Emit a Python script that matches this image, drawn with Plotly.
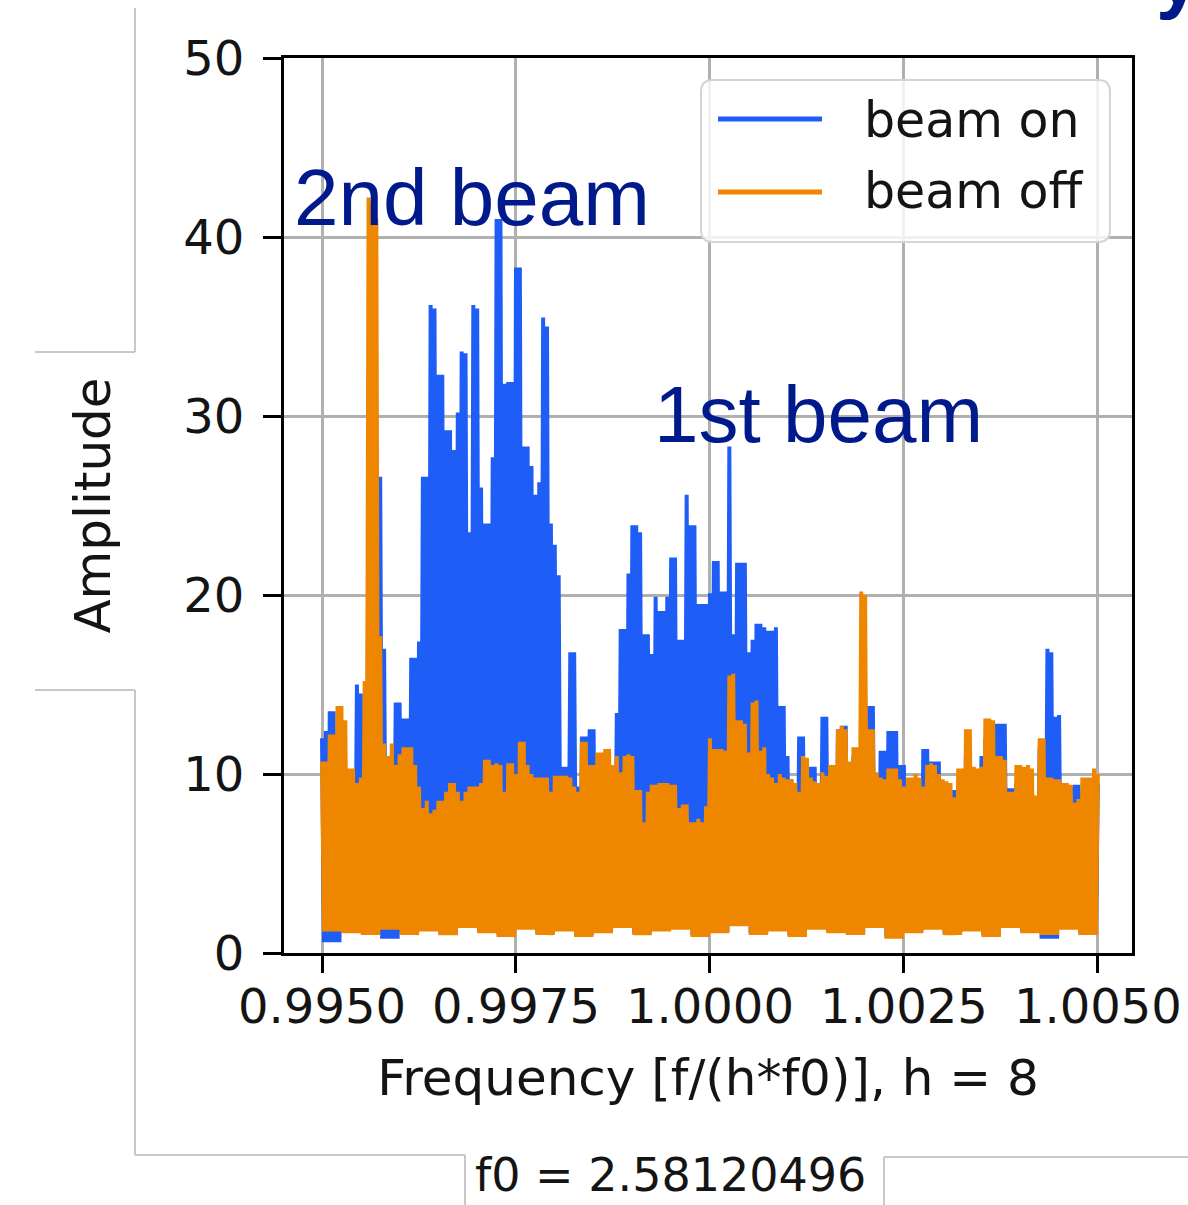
import numpy as np
import plotly.graph_objects as go

# ---------------- data ----------------
freq_start = 0.9950
freq_stop = 1.0050
n_bins = 201

# upper envelope of the "beam on" spectrum, one value per bin (step 0.00005)
beam_on_peaks = [
    12.0, 12.4, 13.5, 13.5, 11.0, 11.0, 10.0, 10.0, 10.0, 15.0,
    14.5, 10.4, 26.8, 20.0, 22.0, 26.6, 17.0, 11.0, 10.0, 14.0,
    14.0, 13.1, 13.1, 16.5, 16.5, 17.4, 26.6, 26.6, 36.2, 36.0,
    32.3, 32.3, 29.2, 29.2, 28.1, 30.2, 33.6, 33.5, 23.5, 36.2,
    36.0, 26.0, 24.0, 24.0, 27.7, 41.0, 41.0, 31.8, 31.9, 31.9,
    38.3, 38.3, 28.3, 28.3, 27.2, 25.6, 26.3, 35.5, 35.0, 24.0,
    22.8, 21.1, 10.4, 10.4, 16.8, 16.8, 9.3, 12.1, 12.1, 12.5,
    12.5, 10.0, 10.0, 9.0, 9.0, 10.0, 13.4, 18.1, 18.1, 21.2,
    23.9, 23.9, 23.5, 17.8, 17.8, 16.7, 19.9, 19.1, 19.1, 19.9,
    22.1, 22.1, 17.5, 17.5, 25.6, 23.9, 23.9, 19.5, 19.5, 19.5,
    20.1, 21.9, 21.9, 20.2, 20.2, 28.3, 17.8, 21.8, 21.8, 21.8,
    16.8, 17.5, 18.4, 18.4, 18.2, 18.0, 18.0, 18.2, 13.8, 13.8,
    11.0, 9.7, 9.5, 12.1, 12.1, 10.4, 10.4, 10.4, 9.5, 13.2,
    13.2, 10.0, 10.0, 12.5, 12.7, 12.7, 9.0, 11.0, 11.0, 11.0,
    13.0, 13.8, 13.8, 10.0, 11.3, 11.3, 12.4, 12.4, 12.4, 10.5,
    10.5, 9.0, 9.0, 9.0, 9.0, 11.4, 11.4, 10.7, 10.7, 10.7,
    9.0, 9.2, 9.1, 9.1, 9.0, 9.0, 11.0, 11.0, 9.5, 9.5,
    11.0, 12.0, 12.0, 12.0, 12.8, 12.8, 12.8, 9.2, 9.2, 9.5,
    9.5, 9.5, 9.5, 9.5, 8.5, 11.5, 11.5, 17.0, 16.8, 13.2,
    13.3, 9.5, 9.4, 9.3, 9.4, 9.4, 9.0, 9.0, 9.0, 9.5,
    9.5,
]

# upper envelope of the "beam off" spectrum
beam_off_peaks = [
    10.7, 10.7, 12.2, 12.2, 13.8, 13.8, 13.0, 10.3, 10.3, 9.5,
    9.8, 15.2, 42.2, 42.0, 41.0, 17.7, 11.7, 11.0, 11.7, 10.5,
    11.1, 11.5, 11.5, 11.5, 10.5, 9.3, 8.1, 8.5, 7.8, 8.0,
    8.5, 8.5, 9.0, 9.5, 9.5, 9.0, 8.5, 9.0, 9.3, 9.3,
    9.3, 9.5, 10.8, 10.8, 10.5, 10.6, 10.5, 9.0, 10.6, 10.6,
    10.0, 11.8, 11.8, 10.5, 10.0, 9.8, 9.8, 9.8, 9.8, 9.0,
    9.9, 9.9, 9.9, 9.9, 9.8, 9.3, 9.0, 11.8, 11.8, 10.5,
    10.5, 11.2, 11.2, 11.4, 11.4, 10.5, 11.0, 10.1, 11.0, 11.1,
    11.0, 9.1, 9.1, 7.3, 9.0, 9.4, 9.4, 9.5, 9.5, 9.5,
    9.4, 9.4, 8.1, 8.3, 8.3, 7.3, 7.3, 7.5, 7.3, 8.2,
    12.0, 11.4, 11.4, 11.4, 11.3, 15.5, 15.6, 13.0, 13.0, 12.8,
    11.2, 14.0, 14.1, 11.3, 11.5, 10.0, 9.8, 9.5, 10.0, 9.8,
    9.7, 9.7, 9.5, 9.0, 11.0, 10.9, 9.8, 9.6, 9.5, 10.1,
    9.9, 10.5, 10.5, 12.5, 12.7, 12.5, 10.7, 11.5, 11.5, 20.2,
    20.0, 12.5, 12.5, 10.1, 9.8, 9.7, 10.3, 10.3, 10.3, 9.7,
    9.3, 9.8, 9.8, 10.0, 9.8, 9.3, 10.5, 10.6, 10.5, 10.0,
    9.7, 9.6, 9.5, 8.7, 10.3, 10.3, 12.5, 12.5, 10.4, 10.3,
    10.4, 13.1, 13.1, 13.0, 11.0, 11.0, 10.8, 9.0, 9.0, 10.5,
    10.5, 10.4, 10.5, 10.3, 8.8, 12.0, 12.0, 9.8, 9.8, 9.7,
    9.7, 9.5, 9.5, 9.4, 8.4, 8.6, 9.8, 9.8, 9.8, 10.3,
    10.0,
]

# lower envelope (troughs), one value per group of 5 bins
beam_on_lows = [
    0.6, 1.2, 1.1, 0.8, 1.1, 1.3, 1.1, 1.5, 1.2, 1.0,
    1.4, 1.1, 1.3, 1.0, 1.2, 1.5, 1.1, 1.3, 1.4, 1.0,
    1.2, 1.6, 1.1, 1.3, 1.0, 1.4, 1.2, 1.1, 1.5, 0.9,
    1.2, 1.4, 1.1, 1.3, 1.0, 1.5, 1.2, 0.8, 1.4, 1.1,
    1.6,
]
beam_off_lows = [
    1.2, 1.1, 1.0, 1.3, 1.0, 1.2, 1.0, 1.4, 1.1, 0.9,
    1.3, 1.0, 1.2, 0.9, 1.1, 1.4, 1.0, 1.2, 1.3, 0.9,
    1.1, 1.5, 1.0, 1.2, 0.9, 1.3, 1.1, 1.0, 1.4, 0.8,
    1.1, 1.3, 1.0, 1.2, 0.9, 1.4, 1.1, 1.0, 1.3, 1.0,
    1.5,
]

series_names = ["beam on", "beam off"]
x_tick_values = [0.9950, 0.9975, 1.0000, 1.0025, 1.0050]
x_tick_labels = ["0.9950", "0.9975", "1.0000", "1.0025", "1.0050"]
y_tick_values = [0, 10, 20, 30, 40, 50]
x_title = "Frequency [f/(h*f0)], h = 8"
y_title = "Amplitude"
f0_text = "f0 = 2.58120496"

# ---------------- build traces ----------------
freqs = np.linspace(freq_start, freq_stop, n_bins)
half_step = (freq_stop - freq_start) / (n_bins - 1) / 2.0


def zigzag(peaks, lows):
    lo = np.repeat(np.asarray(lows, dtype=float), 5)[:n_bins]
    x = np.empty(2 * n_bins)
    y = np.empty(2 * n_bins)
    x[0::2] = freqs
    x[1::2] = freqs + half_step
    y[0::2] = np.asarray(peaks, dtype=float)
    y[1::2] = lo
    return x[:-1], y[:-1]


BLUE = "#1f5ef6"
ORANGE = "#ee8600"
NAVY = "#001a8c"
GRAY = "#c8c8c8"
TXT = "#141414"

fig = go.Figure()
xb, yb = zigzag(beam_on_peaks, beam_on_lows)
xo, yo = zigzag(beam_off_peaks, beam_off_lows)
fig.add_trace(go.Scatter(x=xb, y=yb, mode="lines", name=series_names[0],
                         line=dict(color=BLUE, width=4)))
fig.add_trace(go.Scatter(x=xo, y=yo, mode="lines", name=series_names[1],
                         line=dict(color=ORANGE, width=4)))

# ---------------- layout ----------------
L, R, T, B = 284, 56, 58, 252
W, H = 1188, 1205
PW, PH = W - L - R, H - T - B


def px_x(px):
    return (px - L) / PW


def px_y(py):
    return (H - B - py) / PH


fig.update_layout(
    template="none",
    width=W, height=H,
    margin=dict(l=L, r=R, t=T, b=B, pad=0),
    paper_bgcolor="white", plot_bgcolor="white",
    showlegend=False,
    font=dict(family="DejaVu Sans", color=TXT),
)
fig.update_xaxes(
    range=[0.99451, 1.00544],
    tickvals=x_tick_values, ticktext=x_tick_labels,
    ticks="outside", ticklen=17, tickwidth=3, tickcolor="black",
    ticklabelstandoff=-8,
    showline=True, linecolor="black", linewidth=3, mirror=True,
    showgrid=True, gridcolor="#b0b0b0", gridwidth=2.5, zeroline=False,
    tickfont=dict(size=48, color=TXT),
    title=dict(text=x_title, font=dict(size=50, color=TXT), standoff=28),
)
fig.update_yaxes(
    range=[0, 50],
    tickvals=y_tick_values,
    ticks="outside", ticklen=18, tickwidth=3, tickcolor="black",
    ticklabelstandoff=9,
    showline=True, linecolor="black", linewidth=3, mirror=True,
    showgrid=True, gridcolor="#b0b0b0", gridwidth=2.5, zeroline=False,
    tickfont=dict(size=48, color=TXT),
    title=dict(text=y_title, font=dict(size=50, color=TXT), standoff=57),
)

shapes = []


def rounded_rect(x0, y0, x1, y1, r):
    # pixel coordinates -> paper path with rounded corners
    rx, ry = r / PW, r / PH
    a, b_, c, d = px_x(x0), px_y(y0), px_x(x1), px_y(y1)  # b_ top, d bottom
    return (f"M {a+rx},{b_} L {c-rx},{b_} Q {c},{b_} {c},{b_-ry} "
            f"L {c},{d+ry} Q {c},{d} {c-rx},{d} L {a+rx},{d} "
            f"Q {a},{d} {a},{d+ry} L {a},{b_-ry} Q {a},{b_} {a+rx},{b_} Z")


# legend box
shapes.append(dict(type="path", xref="paper", yref="paper",
                   path=rounded_rect(701, 80, 1110, 242, 12),
                   fillcolor="rgba(255,255,255,0.82)",
                   line=dict(color="#d4d4d4", width=2), layer="above"))
for py, col in [(119, BLUE), (192, ORANGE)]:
    shapes.append(dict(type="line", xref="paper", yref="paper",
                       x0=px_x(718), x1=px_x(822), y0=px_y(py), y1=px_y(py),
                       line=dict(color=col, width=5), layer="above"))

# slide frame lines around the picture
for (x0, y0, x1, y1) in [(135, 8, 135, 352), (35, 352, 135, 352),
                         (35, 690, 135, 690), (135, 690, 135, 1155),
                         (135, 1155, 465, 1155), (465, 1155, 465, 1210),
                         (884, 1157, 884, 1210), (884, 1157, 1195, 1157)]:
    shapes.append(dict(type="line", xref="paper", yref="paper",
                       x0=px_x(x0), x1=px_x(x1), y0=px_y(y0), y1=px_y(y1),
                       line=dict(color=GRAY, width=2), layer="above"))
fig.update_layout(shapes=shapes)

annotations = [
    dict(text=series_names[0], x=px_x(862), y=px_y(120), xanchor="left",
         yanchor="middle", font=dict(size=49, color=TXT, family="DejaVu Sans")),
    dict(text=series_names[1], x=px_x(862), y=px_y(192), xanchor="left",
         yanchor="middle", font=dict(size=49, color=TXT, family="DejaVu Sans")),
    dict(text="2nd beam", x=px_x(292), y=px_y(198), xanchor="left",
         yanchor="middle", font=dict(size=80, color=NAVY, family="Liberation Sans")),
    dict(text="1st beam", x=px_x(652), y=px_y(415), xanchor="left",
         yanchor="middle", font=dict(size=80, color=NAVY, family="Liberation Sans")),
    dict(text=f0_text, x=px_x(473), y=px_y(1204), xanchor="left",
         yanchor="bottom", font=dict(size=46, color=TXT, family="DejaVu Sans")),
    dict(text="<b>y</b>", x=px_x(1178), y=px_y(22), xanchor="center",
         yanchor="bottom", font=dict(size=80, color=NAVY, family="Liberation Sans")),
]
for a in annotations:
    a.update(xref="paper", yref="paper", showarrow=False)
fig.update_layout(annotations=annotations)

fig.write_html("out.html")
